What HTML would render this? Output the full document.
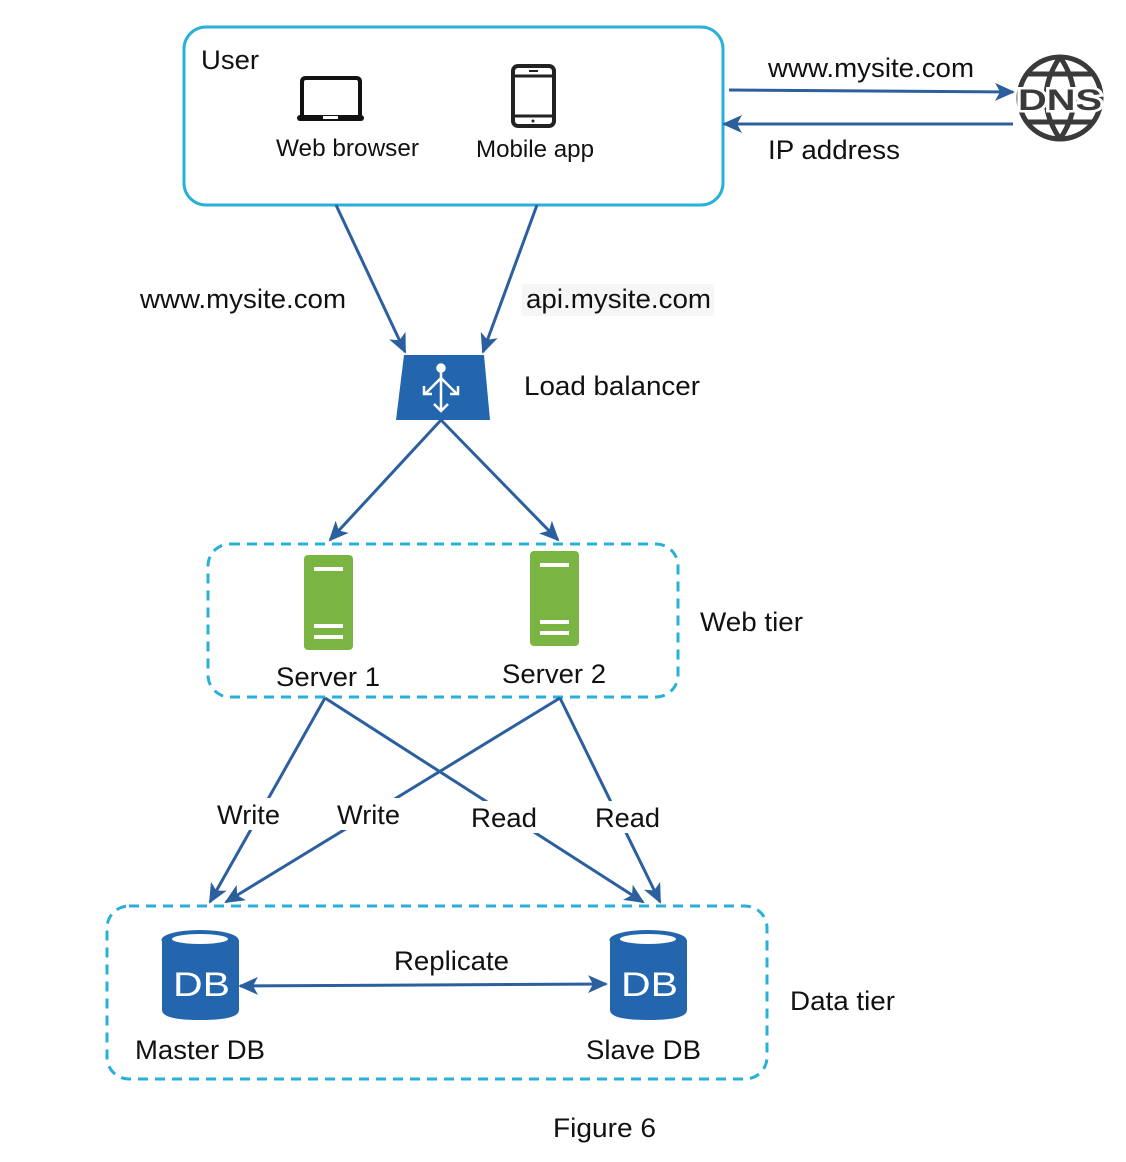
<!DOCTYPE html>
<html><head><meta charset="utf-8"><style>
html,body{margin:0;padding:0;background:#fff;}
svg{display:block;}
text{font-family:"Liberation Sans",sans-serif;fill:#111;}
</style></head><body>
<svg width="1126" height="1162" viewBox="0 0 1126 1162" xmlns="http://www.w3.org/2000/svg">
<defs>
<marker id="ahb" markerWidth="20" markerHeight="18" refX="18" refY="9" orient="auto-start-reverse" markerUnits="userSpaceOnUse">
<path d="M0,0 L20,9 L0,18 L5,9 Z" fill="#2b5f9e"/>
</marker>
</defs>
<g lengthAdjust="spacingAndGlyphs">
<rect x="184" y="27" width="539" height="178" rx="22" fill="none" stroke="#29b0d8" stroke-width="3"/>
<text x="201" y="69" font-size="27" textLength="58" lengthAdjust="spacingAndGlyphs">User</text>
<path d="M302,115 V82 Q302,78 306,78 H356 Q360,78 360,82 V115" fill="none" stroke="#111" stroke-width="4"/>
<rect x="297" y="115" width="67" height="6" rx="3" fill="#111"/>
<rect x="323" y="116" width="15" height="3" fill="#fff"/>
<text x="276" y="156" font-size="24" textLength="143" lengthAdjust="spacingAndGlyphs">Web browser</text>
<rect x="513" y="66" width="41" height="60" rx="5" fill="none" stroke="#222" stroke-width="4"/>
<line x1="513" y1="76" x2="554" y2="76" stroke="#222" stroke-width="3"/>
<line x1="513" y1="116" x2="554" y2="116" stroke="#222" stroke-width="3"/>
<line x1="529" y1="71" x2="538" y2="71" stroke="#222" stroke-width="2"/>
<circle cx="533" cy="121" r="1.5" fill="#222"/>
<text x="476" y="157" font-size="24" textLength="118" lengthAdjust="spacingAndGlyphs">Mobile app</text>
<line x1="729" y1="90" x2="1013" y2="92" stroke="#2b5f9e" stroke-width="3" marker-end="url(#ahb)"/>
<line x1="1013" y1="124" x2="724" y2="124" stroke="#2b5f9e" stroke-width="3" marker-end="url(#ahb)"/>
<text x="768" y="77" font-size="27" textLength="206" lengthAdjust="spacingAndGlyphs">www.mysite.com</text>
<text x="768" y="159" font-size="27" textLength="132" lengthAdjust="spacingAndGlyphs">IP address</text>
<g fill="none" stroke="#3a3a3a" stroke-width="5">
<circle cx="1060" cy="98" r="41"/>
<path d="M1060,57 Q1032,98 1060,139 M1060,57 Q1088,98 1060,139"/>
<path d="M1027,74 H1093 M1027,122 H1093"/>
</g>
<text x="1018" y="110" font-size="30" font-weight="bold" textLength="84" lengthAdjust="spacingAndGlyphs" style="fill:#3a3a3a;stroke:#fff;stroke-width:5;paint-order:stroke">DNS</text>
<line x1="336" y1="205" x2="405" y2="352" stroke="#2b5f9e" stroke-width="3" marker-end="url(#ahb)"/>
<line x1="537" y1="205" x2="483" y2="352" stroke="#2b5f9e" stroke-width="3" marker-end="url(#ahb)"/>
<text x="140" y="308" font-size="27" textLength="206" lengthAdjust="spacingAndGlyphs">www.mysite.com</text>
<rect x="522" y="284" width="192" height="32" fill="#f6f6f6"/>
<text x="526" y="308" font-size="27" textLength="185" lengthAdjust="spacingAndGlyphs">api.mysite.com</text>
<path d="M404,355 H484 L490,420 H396 Z" fill="#2466ae"/>
<g stroke="#fff" stroke-width="2.5" fill="none">
<circle cx="441" cy="368" r="3.5" fill="#fff"/>
<path d="M441,371 V410 M441,378 L426,393 M441,378 L456,393 M434,404 L441,411 L448,404 M424,386 V394 H432 M458,386 V394 H450"/>
</g>
<text x="524" y="395" font-size="27" textLength="176" lengthAdjust="spacingAndGlyphs">Load balancer</text>
<line x1="441" y1="420" x2="330" y2="540" stroke="#2b5f9e" stroke-width="3" marker-end="url(#ahb)"/>
<line x1="441" y1="420" x2="558" y2="540" stroke="#2b5f9e" stroke-width="3" marker-end="url(#ahb)"/>
<rect x="208" y="544" width="470" height="153" rx="22" fill="none" stroke="#29b0d8" stroke-width="3" stroke-dasharray="10,7"/>
<text x="700" y="631" font-size="27" textLength="103" lengthAdjust="spacingAndGlyphs">Web tier</text>
<rect x="304" y="555" width="49" height="95" rx="4" fill="#7ab543"/>
<rect x="314" y="567" width="29" height="4" fill="#fff"/><rect x="314" y="624" width="29" height="4" fill="#fff"/><rect x="314" y="635" width="29" height="4" fill="#fff"/>
<rect x="530" y="551" width="49" height="95" rx="4" fill="#7ab543"/>
<rect x="540" y="563" width="29" height="4" fill="#fff"/><rect x="540" y="620" width="29" height="4" fill="#fff"/><rect x="540" y="631" width="29" height="4" fill="#fff"/>
<text x="276" y="686" font-size="27" textLength="104" lengthAdjust="spacingAndGlyphs">Server 1</text>
<text x="502" y="683" font-size="27" textLength="104" lengthAdjust="spacingAndGlyphs">Server 2</text>
<g stroke="#2b5f9e" stroke-width="3">
<line x1="325" y1="698" x2="210" y2="902" marker-end="url(#ahb)"/>
<line x1="560" y1="698" x2="226" y2="902" marker-end="url(#ahb)"/>
<line x1="325" y1="698" x2="643" y2="902" marker-end="url(#ahb)"/>
<line x1="560" y1="698" x2="660" y2="902" marker-end="url(#ahb)"/>
</g>
<rect x="214" y="798" width="70" height="32" fill="#fff"/>
<rect x="334" y="798" width="70" height="32" fill="#fff"/>
<rect x="468" y="801" width="72" height="32" fill="#fff"/>
<rect x="592" y="801" width="72" height="32" fill="#fff"/>
<text x="217" y="824" font-size="27" textLength="63" lengthAdjust="spacingAndGlyphs">Write</text>
<text x="337" y="824" font-size="27" textLength="63" lengthAdjust="spacingAndGlyphs">Write</text>
<text x="471" y="827" font-size="27" textLength="66" lengthAdjust="spacingAndGlyphs">Read</text>
<text x="595" y="827" font-size="27" textLength="65" lengthAdjust="spacingAndGlyphs">Read</text>
<rect x="107" y="906" width="660" height="173" rx="22" fill="none" stroke="#29b0d8" stroke-width="3" stroke-dasharray="10,7"/>
<text x="790" y="1010" font-size="27" textLength="105" lengthAdjust="spacingAndGlyphs">Data tier</text>
<path d="M162,940 V1010 Q162,1020 200,1020 Q239,1020 239,1010 V940 Z" fill="#2466ae"/>
<ellipse cx="200" cy="940" rx="38.5" ry="10" fill="#2466ae"/>
<ellipse cx="200" cy="939" rx="28" ry="5" fill="#fff"/>
<text x="173" y="996" font-size="34" textLength="57" lengthAdjust="spacingAndGlyphs" style="fill:#fff">DB</text>
<path d="M610,940 V1010 Q610,1020 648,1020 Q687,1020 687,1010 V940 Z" fill="#2466ae"/>
<ellipse cx="648" cy="940" rx="38.5" ry="10" fill="#2466ae"/>
<ellipse cx="648" cy="939" rx="28" ry="5" fill="#fff"/>
<text x="621" y="996" font-size="34" textLength="57" lengthAdjust="spacingAndGlyphs" style="fill:#fff">DB</text>
<line x1="240" y1="986" x2="606" y2="984" stroke="#2b5f9e" stroke-width="3" marker-start="url(#ahb)" marker-end="url(#ahb)"/>
<text x="394" y="970" font-size="27" textLength="115" lengthAdjust="spacingAndGlyphs">Replicate</text>
<text x="135" y="1059" font-size="27" textLength="130" lengthAdjust="spacingAndGlyphs">Master DB</text>
<text x="586" y="1059" font-size="27" textLength="115" lengthAdjust="spacingAndGlyphs">Slave DB</text>
<text x="553" y="1137" font-size="27" textLength="103" lengthAdjust="spacingAndGlyphs">Figure 6</text>
</g>
</svg>
</body></html>
